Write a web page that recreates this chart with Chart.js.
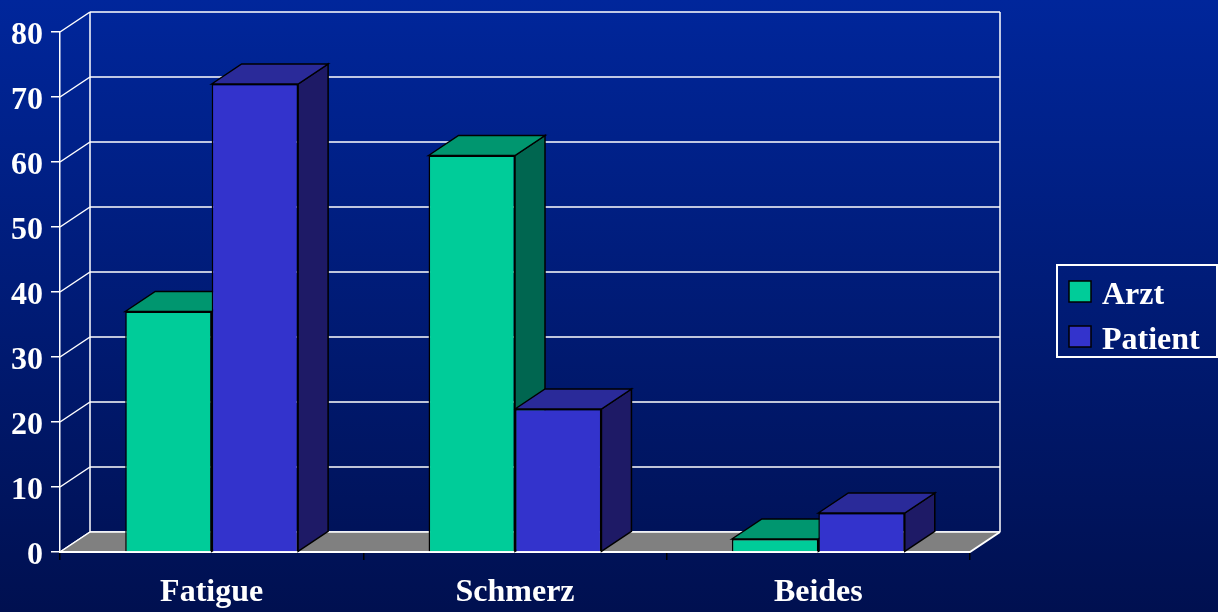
<!DOCTYPE html>
<html>
<head>
<meta charset="utf-8">
<script src="https://cdn.jsdelivr.net/npm/chart.js@4.4.0/dist/chart.umd.min.js"></script>
<style>
  html, body { margin: 0; padding: 0; background: #001a70; }
  canvas { display: block; }
</style>
</head>
<body>
<canvas id="chart" width="1218" height="612"></canvas>
<script>
var categories = ['Fatigue', 'Schmerz', 'Beides'];
var arztValues = [37, 61, 2];
var patientValues = [72, 22, 6];
var seriesNames = ['Arzt', 'Patient'];
var yMin = 0, yMax = 80, yStep = 10;

var frontColors = ['#00cc99', '#3333cc'];
var topColors = ['#00966f', '#2a2a99'];
var sideColors = ['#006650', '#1e1a66'];

var depthX = 30, depthY = -20; // offset of the back plane
var fontFamily = '"Liberation Serif", "Times New Roman", serif';

function poly(ctx, pts, fill, stroke, lw) {
    ctx.beginPath();
    ctx.moveTo(pts[0][0], pts[0][1]);
    for (var i = 1; i < pts.length; i++) ctx.lineTo(pts[i][0], pts[i][1]);
    ctx.closePath();
    if (fill) { ctx.fillStyle = fill; ctx.fill(); }
    if (stroke) { ctx.strokeStyle = stroke; ctx.lineWidth = lw; ctx.stroke(); }
}

function line(ctx, x1, y1, x2, y2, color, lw) {
    ctx.beginPath();
    ctx.moveTo(x1, y1);
    ctx.lineTo(x2, y2);
    ctx.strokeStyle = color;
    ctx.lineWidth = lw;
    ctx.stroke();
}

const chart3d = {
    id: 'chart3d',
    beforeDraw(chart) {
        const ctx = chart.ctx;
        const g = ctx.createLinearGradient(0, 0, 0, chart.height);
        g.addColorStop(0, '#00269b');
        g.addColorStop(1, '#001050');
        ctx.save();
        ctx.fillStyle = g;
        ctx.fillRect(0, 0, chart.width, chart.height);
        ctx.restore();
    },
    beforeDatasetsDraw(chart) {
        const ctx = chart.ctx;
        const a = chart.chartArea;
        const y = chart.scales.y;
        ctx.save();
        // back wall grid + side wall diagonals
        for (var v = yMin; v <= yMax; v += yStep) {
            var yy = y.getPixelForValue(v);
            line(ctx, a.left + depthX, yy + depthY, a.right + depthX, yy + depthY, '#ffffff', 1.5);
            line(ctx, a.left, yy, a.left + depthX, yy + depthY, '#ffffff', 1.5);
        }
        line(ctx, a.left + depthX, a.top + depthY, a.left + depthX, a.bottom + depthY, '#ffffff', 1.5);
        line(ctx, a.right + depthX, a.top + depthY, a.right + depthX, a.bottom + depthY, '#ffffff', 1.5);

        // floor
        poly(ctx, [[a.left, a.bottom], [a.right, a.bottom], [a.right + depthX, a.bottom + depthY], [a.left + depthX, a.bottom + depthY]], '#808080');
        line(ctx, a.left, a.bottom, a.right, a.bottom, '#ffffff', 2);
        line(ctx, a.right, a.bottom, a.right + depthX, a.bottom + depthY, '#ffffff', 2);
        line(ctx, a.left, a.bottom, a.left + depthX, a.bottom + depthY, '#ffffff', 1.5);
        line(ctx, a.left + depthX, a.bottom + depthY, a.right + depthX, a.bottom + depthY, '#ffffff', 1.5);

        // side and top faces of bars
        for (var d = 0; d < chart.data.datasets.length; d++) {
            var meta = chart.getDatasetMeta(d);
            meta.data.forEach(function (bar) {
                var p = bar.getProps(['x', 'y', 'base', 'width'], true);
                var l = p.x - p.width / 2, r = p.x + p.width / 2;
                poly(ctx, [[r, p.y], [r + depthX, p.y + depthY], [r + depthX, p.base + depthY], [r, p.base]], sideColors[d], '#000000', 1.5);
                poly(ctx, [[l, p.y], [l + depthX, p.y + depthY], [r + depthX, p.y + depthY], [r, p.y]], topColors[d], '#000000', 1.5);
            });
        }
        ctx.restore();
    },
    afterDraw(chart) {
        // legend box
        const ctx = chart.ctx;
        ctx.save();
        ctx.strokeStyle = '#ffffff';
        ctx.lineWidth = 2;
        ctx.strokeRect(1057, 265, 160, 92);
        ctx.font = 'bold 32px ' + fontFamily;
        ctx.textBaseline = 'alphabetic';
        ctx.textAlign = 'left';
        for (var i = 0; i < seriesNames.length; i++) {
            var top = 281 + i * 45;
            ctx.fillStyle = frontColors[i];
            ctx.fillRect(1069, top, 22, 21);
            ctx.strokeStyle = '#000000';
            ctx.lineWidth = 1.5;
            ctx.strokeRect(1069, top, 22, 21);
            ctx.fillStyle = '#ffffff';
            ctx.fillText(seriesNames[i], 1102, 304 + i * 44.5);
        }
        ctx.restore();
    }
};

new Chart(document.getElementById('chart'), {
    type: 'bar',
    data: {
        labels: categories,
        datasets: [
            {
                label: seriesNames[0],
                data: arztValues,
                backgroundColor: frontColors[0],
                borderColor: '#000000',
                borderWidth: 1.5,
                categoryPercentage: 0.57,
                barPercentage: 1.0
            },
            {
                label: seriesNames[1],
                data: patientValues,
                backgroundColor: frontColors[1],
                borderColor: '#000000',
                borderWidth: 1.5,
                categoryPercentage: 0.57,
                barPercentage: 1.0
            }
        ]
    },
    options: {
        responsive: false,
        animation: false,
        layout: {
            padding: { left: 0, right: 248, top: 32, bottom: 3 }
        },
        plugins: {
            legend: { display: false },
            tooltip: { enabled: false }
        },
        scales: {
            y: {
                min: yMin,
                max: yMax,
                afterFit: function (scale) { scale.width = 60; },
                ticks: {
                    stepSize: yStep,
                    color: '#ffffff',
                    padding: 8,
                    labelOffset: 4,
                    font: { family: fontFamily, size: 32, weight: 'bold' }
                },
                grid: {
                    drawOnChartArea: false,
                    drawTicks: true,
                    tickLength: 9,
                    color: '#ffffff',
                    lineWidth: 1.5
                },
                border: { display: true, color: '#ffffff', width: 1.5 }
            },
            x: {
                afterFit: function (scale) { scale.height = 57; },
                ticks: {
                    color: '#ffffff',
                    padding: 14,
                    font: { family: fontFamily, size: 32, weight: 'bold' }
                },
                grid: {
                    offset: true,
                    drawOnChartArea: false,
                    drawTicks: true,
                    tickLength: 8,
                    color: '#000000',
                    lineWidth: 1.5
                },
                border: { display: true, color: '#ffffff', width: 2 }
            }
        }
    },
    plugins: [chart3d]
});
</script>
</body>
</html>
